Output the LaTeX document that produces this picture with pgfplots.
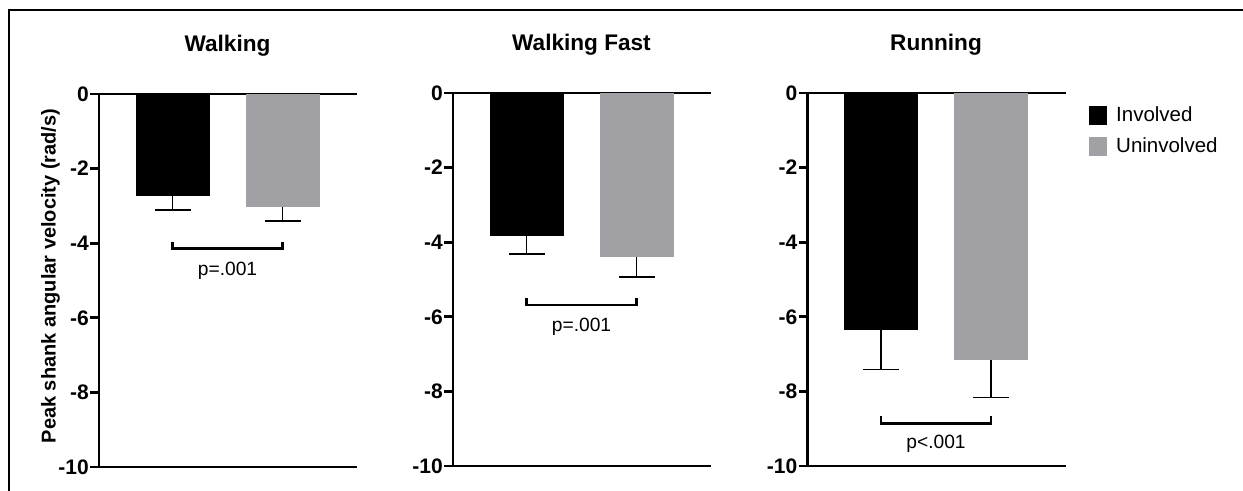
\documentclass[border=0pt]{standalone}
\usepackage{pgfplots}
\pgfplotsset{compat=1.18}
\usepackage{fontspec}
\setmainfont{Liberation Sans}

\definecolor{involved}{RGB}{0,0,0}
\definecolor{uninvolved}{RGB}{161,161,165}

\tikzset{ptext/.style={font=\fontsize{9.6}{11}\selectfont, inner sep=0pt}}
\newcommand{\tl}[1]{\mbox{\fontsize{10.5}{12}\selectfont\bfseries #1}}

\pgfplotsset{
  panel/.style={
    scale only axis, width=128.5pt, height=186.5pt,
    anchor=south west,
    xmin=0.3318, xmax=2.668, ymin=-10, ymax=0,
    axis y line*=left, axis x line*=box,
    xtick=\empty,
    ytick={-10,-8,-6,-4,-2,0},
    yticklabels={\tl{-10},\tl{-8},\tl{-6},\tl{-4},\tl{-2},\tl{0}},
    yticklabel style={inner sep=0.6pt},
    tick align=outside, major tick length=4.3pt,
    tick style={line width=1.35pt, black},
    axis line style={line width=1.35pt, line cap=rect},
    title style={at={(axis description cs:0.5,1)}, anchor=base, yshift=15.4pt,
      inner sep=0pt, font=\bfseries\fontsize{11.3}{13}\selectfont},
    clip=false,
  },
  meanbar/.style={ybar, bar width=0.6727, bar shift=0pt, draw=none, fill=#1,
    error bars/y dir=minus, error bars/y explicit,
    error bars/error bar style={line width=0.75pt, black},
    error bars/error mark options={rotate=90, mark size=9pt, line width=0.75pt, black}},
  bracket/.style={black, line width=1.35pt, mark=none, line join=miter},
}

\begin{document}
\begin{tikzpicture}
\path[use as bounding box] (0,0) rectangle (621.5pt,245.5pt);
% frame around the figure
\draw[line width=1pt] (4.5pt,0) -- (4.5pt,240.5pt) -- (621.5pt,240.5pt);

\node[rotate=90, font=\bfseries\fontsize{10}{12}\selectfont] at (25.25pt,107.5pt)
  {Peak shank angular velocity (rad/s)};

% Walking
\begin{axis}[panel, at={(49.5pt,12pt)}, title={Walking}]
\addplot[meanbar=involved] coordinates {(1,-2.73) +- (0,0.38)};
\addplot[meanbar=uninvolved] coordinates {(2,-3.04) +- (0,0.36)};
\addplot[bracket] coordinates {(1,-3.96) (1,-4.14) (2,-4.14) (2,-3.96)};
\node[ptext] at (axis cs:1.5,-4.73) {p=.001};
\end{axis}

% Walking Fast
\begin{axis}[panel, at={(226.5pt,12.5pt)}, title={Walking Fast}]
\addplot[meanbar=involved] coordinates {(1,-3.83) +- (0,0.49)};
\addplot[meanbar=uninvolved] coordinates {(2,-4.40) +- (0,0.53)};
\addplot[bracket] coordinates {(1,-5.49) (1,-5.68) (2,-5.68) (2,-5.49)};
\node[ptext] at (axis cs:1.5,-6.26) {p=.001};
\end{axis}

% Running
\begin{axis}[panel, at={(403.75pt,12.5pt)}, title={Running},
  legend style={at={(axis description cs:1.0953,0.965)}, anchor=north west,
    draw=none, fill=none, inner sep=0pt, row sep=6pt,
    font=\fontsize{10.25}{12}\selectfont, nodes={inner sep=0pt},
    /tikz/every odd column/.append style={column sep=4.5pt}},
  legend cell align=left]
\addplot[meanbar=involved, forget plot] coordinates {(1,-6.35) +- (0,1.06)};
\addplot[meanbar=uninvolved, forget plot] coordinates {(2,-7.16) +- (0,1.00)};
\addplot[bracket, forget plot] coordinates {(1,-8.66) (1,-8.86) (2,-8.86) (2,-8.66)};
\node[ptext] at (axis cs:1.5,-9.41) {p<.001};
\addlegendimage{legend image code/.code={\fill[involved] (0pt,-4.5pt) rectangle (8.5pt,4.5pt);}}
\addlegendentry{Involved}
\addlegendimage{legend image code/.code={\fill[uninvolved] (0pt,-4.5pt) rectangle (8.5pt,4.5pt);}}
\addlegendentry{Uninvolved}
\end{axis}
\end{tikzpicture}
\end{document}
